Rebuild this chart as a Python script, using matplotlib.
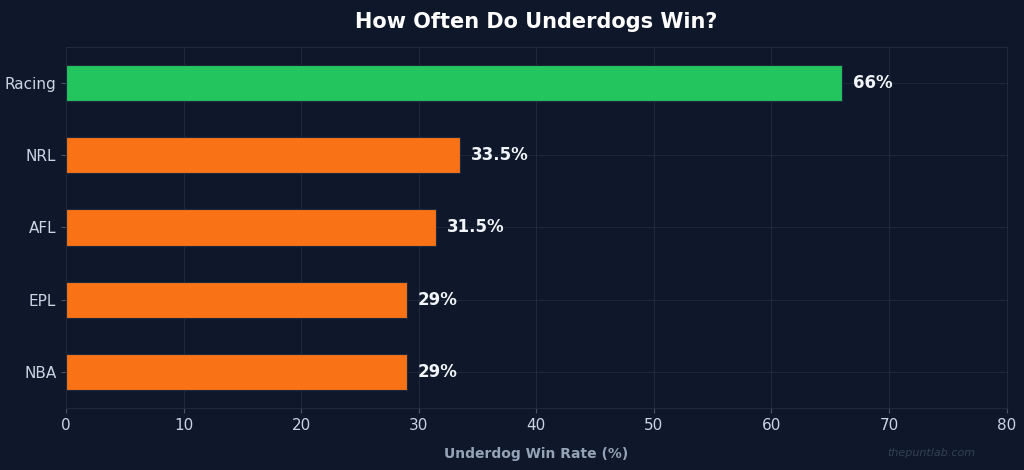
import matplotlib.pyplot as plt

sports = ['NBA', 'EPL', 'AFL', 'NRL', 'Racing']
win_rates = [29, 29, 31.5, 33.5, 66]
labels = ['29%', '29%', '31.5%', '33.5%', '66%']
colors = ['#f97316', '#f97316', '#f97316', '#f97316', '#22c55e']

bg = '#0f172a'
fig, ax = plt.subplots(figsize=(10.24, 4.7), dpi=100)
fig.patch.set_facecolor(bg)
ax.set_facecolor(bg)
fig.subplots_adjust(left=0.0645, right=0.983, top=0.90, bottom=0.132)

ax.barh(sports, win_rates, height=0.5, color=colors, edgecolor='#1e293b', linewidth=0.8, zorder=3)
for i, (v, t) in enumerate(zip(win_rates, labels)):
    ax.text(v + 0.9, i, t, va='center', ha='left', color='#f1f5f9',
            fontsize=12, fontweight='bold', zorder=4)

ax.set_xlim(0, 80)
ax.set_ylim(-0.5, 4.5)
ax.grid(axis='x', color='#1e293b', linewidth=0.8, zorder=0)
ax.grid(axis='y', color='#1e293b', linewidth=0.6, zorder=0)
for s in ax.spines.values():
    s.set_color('#1e293b')
ax.tick_params(colors='#cbd5e1', labelsize=11)
ax.tick_params(axis='both', color='#475569')
ax.set_xlabel('Underdog Win Rate (%)', color='#94a3b8', fontsize=10,
              fontweight='bold', labelpad=10)
ax.set_title('How Often Do Underdogs Win?', color='white', fontsize=15,
             fontweight='bold', pad=14)
fig.text(0.953, 0.03, 'thepuntlab.com', color='#334155', fontsize=8,
         style='italic', ha='right')

fig.savefig('out.png', facecolor=bg)
